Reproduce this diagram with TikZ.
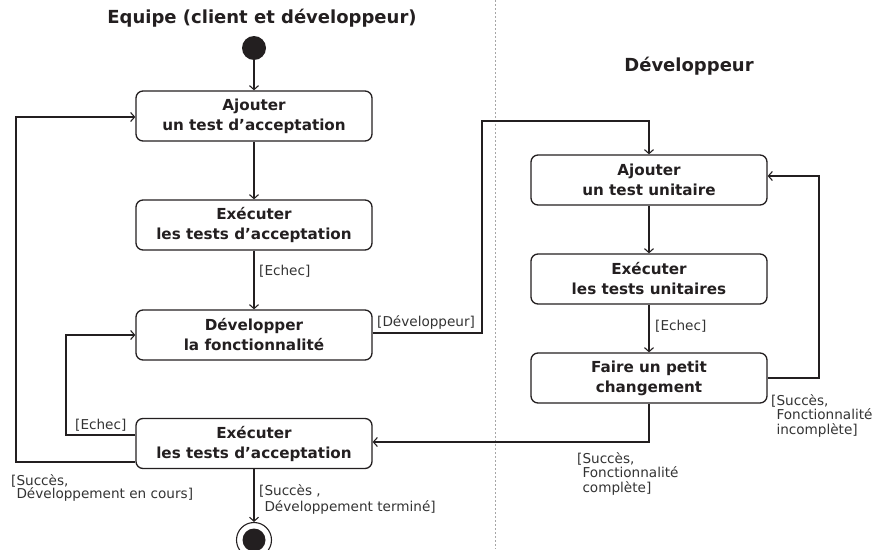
\documentclass[tikz,border=0pt]{standalone}
\usepackage{fontspec}
\setmainfont{DejaVu Sans}
\usetikzlibrary{arrows.meta,positioning}
\definecolor{ink}{HTML}{231F20}
\definecolor{lbl}{HTML}{333333}
\tikzset{
  act/.style={draw=ink, line width=1.3pt, rounded corners=7pt, minimum width=236pt, minimum height=50pt,
     align=center, font=\fontsize{15.2}{20}\selectfont\bfseries, text=ink, inner sep=0pt},
  flow/.style={draw=ink, line width=1.1pt, -{Straight Barb[length=4pt,width=9pt,line width=1.1pt]}},
  line/.style={draw=ink, line width=1.1pt},
  guard/.style={font=\fontsize{13.6}{14}\selectfont, text=lbl, align=left, inner sep=0pt},
  title/.style={font=\fontsize{18}{20}\selectfont\bfseries, text=ink, inner sep=0pt},
}
\newcommand{\ind}{\hphantom{[}}
\begin{document}
\begin{tikzpicture}[x=1pt,y=-1pt]
\useasboundingbox (0,0) rectangle (873,549);
% swimlane separator
\draw[gray!70, line width=0.8pt, dash pattern=on 2pt off 2pt] (495,0) -- (495,549);
% titles
\node[title] (t1) at (262,18) {Equipe (client et développeur)};
\node[title] (t2) at (689,66) {Développeur};
% nodes left
\node[circle, fill=ink, minimum size=24pt, inner sep=0pt] (init) at (254,48) {};
\node[act] (a1) at (254,116) {Ajouter\\un test d’acceptation};
\node[act] (a2) at (254,225) {Exécuter\\les tests d’acceptation};
\node[act] (a3) at (254,335) {Développer\\la fonctionnalité};
\node[act] (a4) at (254,443.5) {Exécuter\\les tests d’acceptation};
\node[circle, draw=ink, line width=1.1pt, minimum size=35pt, inner sep=0pt] (fin) at (254,540) {};
\fill[ink] (fin.center) circle (11.5pt);
% nodes right
\node[act] (b1) at (649,180) {Ajouter\\un test unitaire};
\node[act] (b2) at (649,279) {Exécuter\\les tests unitaires};
\node[act] (b3) at (649,378) {Faire un petit\\changement};
% coordinates for bends
\coordinate (p1) at (482,333);
\coordinate (p2) at (482,121);
\coordinate (p3) at (649,121);
\coordinate (q1) at (819,378);
\coordinate (q2) at (819,176);
\coordinate (r1) at (649,442);
\coordinate (s1) at (66,435);
\coordinate (s2) at (66,335);
\coordinate (u1) at (16,462);
\coordinate (u2) at (16,117);
% connectors
\draw[flow] (init) -- (a1);
\draw[flow] (a1) -- (a2);
\draw[flow] (a2) -- (a3);
\draw[flow] (a3.east |- p1) -- (p1) -- (p2) -- (p3) -- (b1.north);
\draw[flow] (b1) -- (b2);
\draw[flow] (b2) -- (b3);
\draw[flow] (b3.east |- q1) -- (q1) -- (q2) -- (b1.east |- q2);
\draw[flow] (b3.south) -- (r1) -- (a4.east |- r1);
\draw[flow] (a4.west |- s1) -- (s1) -- (s2) -- (a3.west |- s2);
\draw[flow] (a4.west |- u1) -- (u1) -- (u2) -- (a1.west |- u2);
\draw[flow] (a4) -- (fin);
% guards
\node[guard, anchor=west] (g1) at (259,271) {[Echec]};
\node[guard, anchor=west] (g2) at (377,322) {[Développeur]};
\node[guard, anchor=west] (g3) at (655,326) {[Echec]};
\node[guard, anchor=north west, font=\fontsize{13.6}{14.5}\selectfont] (g4) at (771,394) {[Succès,\\\ind Fonctionnalité\\\ind incomplète]};
\node[guard, anchor=north west, font=\fontsize{13.6}{14.5}\selectfont] (g5) at (577,452) {[Succès,\\\ind Fonctionnalité\\\ind complète]};
\node[guard, anchor=west] (g6) at (75,425) {[Echec]};
\node[guard, anchor=north west, font=\fontsize{13.6}{13.5}\selectfont] (g7) at (11,474) {[Succès,\\\ind Développement en cours]};
\node[guard, anchor=north west, font=\fontsize{13.6}{16}\selectfont] (g8) at (259,484) {[Succès ,\\\ind Développement terminé]};
\end{tikzpicture}
\end{document}
